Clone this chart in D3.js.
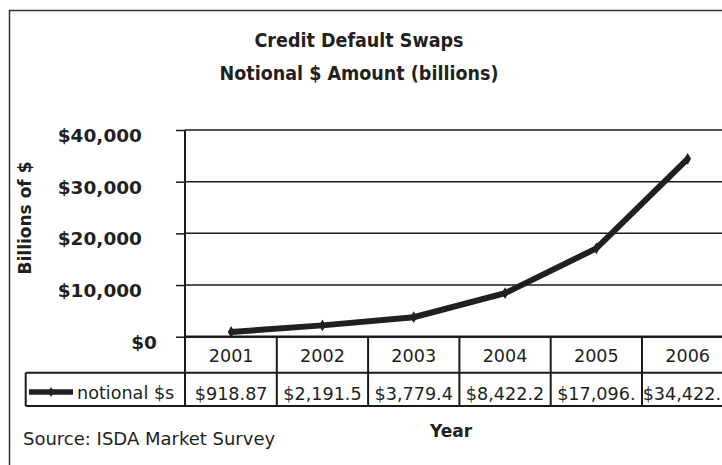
<!DOCTYPE html>
<html>
<head>
<meta charset="utf-8">
<script src="https://cdn.jsdelivr.net/npm/d3@7"></script>
<style>
  body { margin: 0; background: #fff; }
  text { fill: #231f20; }
</style>
</head>
<body>
<div class="chart"></div>
<script>
// chart data
let years = ["2001", "2002", "2003", "2004", "2005", "2006"];
let notional = [918.87, 2191.57, 3779.4, 8422.26, 17096.14, 34422.8];
let cellLabels = ["$918.87", "$2,191.5", "$3,779.4", "$8,422.2", "$17,096.", "$34,422."];
let yTicks = [0, 10000, 20000, 30000, 40000];
let seriesName = "notional $s";

let width = 722,
    height = 465;

let ink = "#231f20";

let plot = d3.select('.chart').append('svg')
    .attr("width", width)
    .attr("height", height)
    .attr("viewBox", [0, 0, width, height]);

plot.append("rect")
    .attr("width", width).attr("height", height)
    .attr("fill", "#fff");

// outer frame (cropped on the right and bottom)
plot.append("path")
    .attr("d", "M9.5,470V10.5H730")
    .attr("fill", "none")
    .attr("stroke", "#333")
    .attr("stroke-width", 1.5);

// titles
plot.append("text")
    .attr("x", 359).attr("y", 47)
    .attr("text-anchor", "middle")
    .style("font", "bold 19.5px 'DejaVu Sans Condensed', 'DejaVu Sans', sans-serif")
    .text("Credit Default Swaps");

plot.append("text")
    .attr("x", 359).attr("y", 80)
    .attr("text-anchor", "middle")
    .style("font", "bold 19.5px 'DejaVu Sans Condensed', 'DejaVu Sans', sans-serif")
    .text("Notional $ Amount (billions)");

// scales
let x = d3.scaleBand()
    .domain(years)
    .range([185.5, 185.5 + 6 * 91.3]);

let y = d3.scaleLinear()
    .domain([0, 40000])
    .range([336.7, 130]);

// gridlines
plot.append("g")
    .selectAll("line")
    .data(yTicks.filter(d => d > 0))
    .join("line")
    .attr("x1", 185).attr("x2", width)
    .attr("y1", d => y(d)).attr("y2", d => y(d))
    .attr("stroke", "#1a1a1a")
    .attr("stroke-width", 1.5);

// y axis
let yAxis = plot.append("g")
    .attr("transform", "translate(185,0)")
    .call(d3.axisLeft(y)
        .tickValues(yTicks)
        .tickSize(9)
        .tickPadding(34)
        .tickFormat(d => "$" + d3.format(",")(d)));

yAxis.select(".domain").remove();
yAxis.selectAll(".tick line")
    .attr("stroke", "#1a1a1a")
    .attr("stroke-width", 1.5);
yAxis.selectAll(".tick text")
    .attr("dy", "0.62em")
    .style("font", "bold 18.5px 'DejaVu Sans', Verdana, sans-serif")
    .attr("fill", ink)
    .attr("dx", d => d === 0 ? 15 : 0);

// y axis line running down through the table
plot.append("line")
    .attr("x1", 185).attr("x2", 185)
    .attr("y1", y(40000)).attr("y2", 406)
    .attr("stroke", "#1a1a1a")
    .attr("stroke-width", 2);

// y axis title
plot.append("text")
    .attr("transform", "translate(31,218) rotate(-90)")
    .attr("text-anchor", "middle")
    .style("font", "bold 17px 'DejaVu Sans', Verdana, sans-serif")
    .text("Billions of $");

// data table
let rowTop = y(0), rowMid = 372.7, rowBot = 406;
let table = plot.append("g");

table.selectAll("line.col")
    .data(years)
    .join("line")
    .attr("class", "col")
    .attr("x1", d => x(d) + x.bandwidth()).attr("x2", d => x(d) + x.bandwidth())
    .attr("y1", rowTop).attr("y2", rowBot)
    .attr("stroke", "#1a1a1a")
    .attr("stroke-width", 2);

[rowTop, rowMid, rowBot].forEach(v => {
    table.append("line")
        .attr("x1", v === rowTop ? 185 : 25.7).attr("x2", width)
        .attr("y1", v).attr("y2", v)
        .attr("stroke", "#1a1a1a")
        .attr("stroke-width", v === rowTop ? 2.5 : 2);
});

// legend cell
table.append("line")
    .attr("x1", 25.7).attr("x2", 25.7)
    .attr("y1", rowMid).attr("y2", rowBot)
    .attr("stroke", "#1a1a1a")
    .attr("stroke-width", 2);

table.append("line")
    .attr("x1", 29).attr("x2", 73)
    .attr("y1", 392).attr("y2", 392)
    .attr("stroke", ink)
    .attr("stroke-width", 5.5);

table.append("path")
    .attr("d", d3.symbol(d3.symbolDiamond, 30)())
    .attr("transform", "translate(51,392)")
    .attr("fill", ink);

table.append("text")
    .attr("x", 77).attr("y", 398.5)
    .style("font", "17.6px 'DejaVu Sans', Verdana, sans-serif")
    .text(seriesName);

table.selectAll("text.year")
    .data(years)
    .join("text")
    .attr("class", "year")
    .attr("x", d => x(d) + x.bandwidth() / 2)
    .attr("y", 362)
    .attr("text-anchor", "middle")
    .style("font", "17.6px 'DejaVu Sans', Verdana, sans-serif")
    .text(d => d);

table.selectAll("text.val")
    .data(cellLabels)
    .join("text")
    .attr("class", "val")
    .attr("x", (d, i) => x(years[i]) + x.bandwidth() / 2)
    .attr("y", 399.5)
    .attr("text-anchor", "middle")
    .style("font", "17.6px 'DejaVu Sans', Verdana, sans-serif")
    .text(d => d)
    .each(function() {
        // keep the last cell inside the visible page
        let b = this.getBBox();
        if (b.x + b.width > width - 1) {
            d3.select(this).attr("x", +d3.select(this).attr("x") - (b.x + b.width - width + 1));
        }
    });

// series line
let line = d3.line()
    .x((d, i) => x(years[i]) + x.bandwidth() / 2)
    .y(d => y(d));

plot.append("path")
    .datum(notional)
    .attr("d", line)
    .attr("fill", "none")
    .attr("stroke", ink)
    .attr("stroke-width", 6)
    .attr("stroke-linejoin", "miter");

plot.append("g")
    .selectAll("path")
    .data(notional)
    .join("path")
    .attr("d", d3.symbol(d3.symbolDiamond, 40)())
    .attr("transform", (d, i) => `translate(${x(years[i]) + x.bandwidth() / 2},${y(d)})`)
    .attr("fill", ink);

// footer
plot.append("text")
    .attr("x", 23).attr("y", 445)
    .style("font", "18px 'DejaVu Sans', Verdana, sans-serif")
    .text("Source: ISDA Market Survey");

plot.append("text")
    .attr("x", 451).attr("y", 437)
    .attr("text-anchor", "middle")
    .style("font", "bold 17px 'DejaVu Sans', Verdana, sans-serif")
    .text("Year");
</script>
</body>
</html>
